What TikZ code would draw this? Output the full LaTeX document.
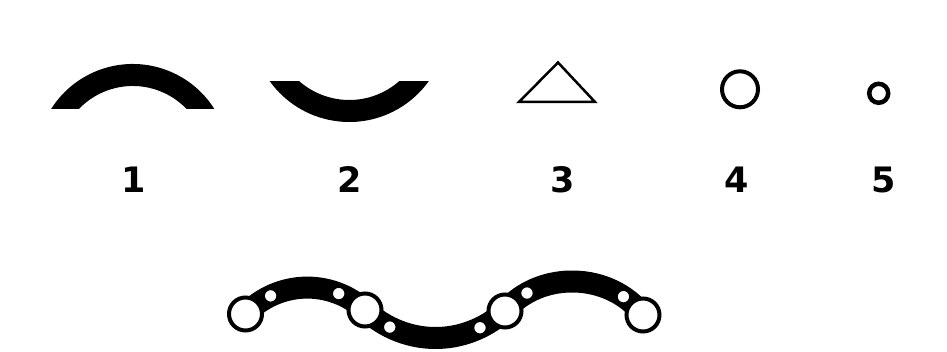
\documentclass[tikz,border=0pt]{standalone}
\usepackage{fontspec}
\setmainfont{DejaVu Sans}
\usepackage{tikz}

\begin{document}
\begin{tikzpicture}[x=1pt, y=1pt,
    band/.style={line width=22pt, black},
    ring/.style={circle, draw=black, line width=4pt, fill=white, inner sep=0pt, minimum size=33pt},
    dot/.style={circle, draw=black, line width=2.5pt, fill=white, inner sep=0pt, minimum size=14pt},
    num/.style={font=\fontsize{35}{35}\selectfont\bfseries, inner sep=0pt}
]
\useasboundingbox (0,0) rectangle (947,352);

% the five parts
\begin{scope}
\clip (0,243) rectangle (947,352);
\draw[band] (132.75,191.5) ++(155:85.5) arc[start angle=155, end angle=25, radius=85.5];
\end{scope}
\begin{scope}
\clip (0,0) rectangle (947,270);
\draw[band] (349.25,327.8) ++(210:86.8) arc[start angle=210, end angle=330, radius=86.8];
\end{scope}
\draw[line width=2.5pt] (558,289.5) -- (595,250) -- (519,250) -- cycle;
\node[ring, minimum size=36pt] (O4) at (740,262.7) {};
\node[ring, minimum size=19pt, line width=4.5pt] (O5) at (878.7,258.7) {};

\node[num] (N1) at (134,172) {1};
\node[num] (N2) at (350,172) {2};
\node[num] (N3) at (563,172) {3};
\node[num] (N4) at (737,172) {4};
\node[num] (N5) at (884,172) {5};

% the chain built from them
\coordinate (P1) at (245.5,38);
\coordinate (P2) at (365,42);
\coordinate (P3) at (505,41);
\coordinate (P4) at (643,37);

\draw[band] (P1) to[bend left=44] node[dot, pos=0.23] (S1) {} node[dot, pos=0.77] (S2) {} (P2);
\draw[band] (P2) to[bend right=42] node[dot, pos=0.19] (S3) {} node[dot, pos=0.81] (S4) {} (P3);
\draw[band] (P3) to[bend left=51] node[dot, pos=0.18] (S5) {} node[dot, pos=0.83] (S6) {} (P4);

\node[ring] (R1) at (P1) {};
\node[ring] (R2) at (P2) {};
\node[ring] (R3) at (P3) {};
\node[ring] (R4) at (P4) {};
\end{tikzpicture}
\end{document}
